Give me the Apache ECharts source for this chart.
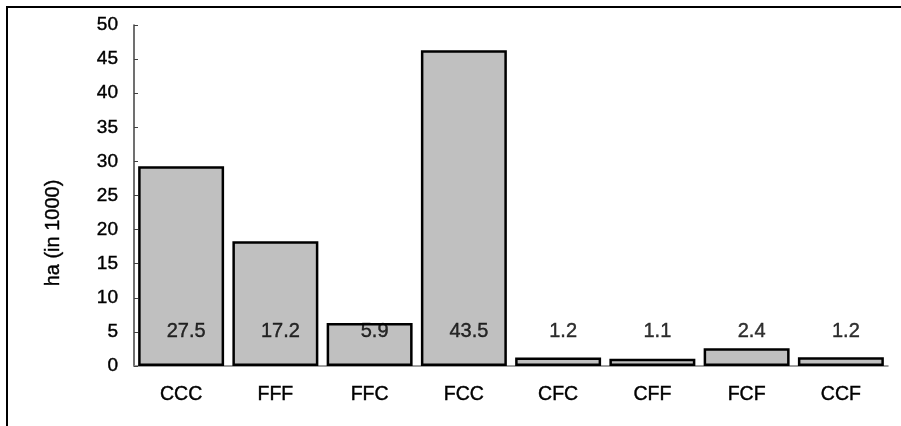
<!DOCTYPE html>
<html>
<head>
<meta charset="utf-8">
<script src="https://cdn.jsdelivr.net/npm/echarts@6/dist/echarts.min.js"></script>
<style>
html,body{margin:0;padding:0;background:#fff;}
#chart{width:901px;height:426px;}
</style>
</head>
<body>
<div id="chart"></div>
<script>
const categories = ['CCC', 'FFF', 'FFC', 'FCC', 'CFC', 'CFF', 'FCF', 'CCF'];
const barValues = [29.3, 18.3, 6.3, 46.3, 1.25, 1.05, 2.6, 1.3];
const labelTexts = ['27.5', '17.2', '5.9', '43.5', '1.2', '1.1', '2.4', '1.2'];
const yTicks = [0, 5, 10, 15, 20, 25, 30, 35, 40, 45, 50];
const yAxisTitle = 'ha (in 1000)';

const FONT = 'Liberation Sans, Arial, sans-serif';
const chart = echarts.init(document.getElementById('chart'), null, {renderer: 'canvas'});
const labelLevel = 5;
const dark = {textBorderColor: '#000', textBorderWidth: 0.4};

chart.setOption({
  animation: false,
  backgroundColor: '#ffffff',
  grid: {left: 134, right: 13, top: 25, bottom: 60, containLabel: false},
  graphic: [
    {type: 'rect', shape: {x: 7, y: 7, width: 910, height: 440}, style: {fill: 'none', stroke: '#000', lineWidth: 2}, silent: true},
    {type: 'text', x: 53, y: 233, rotation: Math.PI / 2,
     style: Object.assign({text: yAxisTitle, fill: '#000', font: '20px ' + FONT, textAlign: 'center', textVerticalAlign: 'middle', stroke: '#000', lineWidth: 0.4})}
  ],
  xAxis: {
    type: 'category',
    data: categories,
    axisTick: {show: false},
    axisLine: {lineStyle: {color: '#808080', width: 1.5}},
    axisLabel: Object.assign({color: '#000', fontSize: 19.5, fontFamily: FONT, margin: 19}, dark)
  },
  yAxis: {
    type: 'value',
    min: yTicks[0], max: yTicks[yTicks.length - 1], interval: 5,
    splitLine: {show: false},
    axisLine: {show: true, lineStyle: {color: '#404040', width: 1.5}},
    axisTick: {show: true, inside: true, length: 4, lineStyle: {color: '#404040'}},
    axisLabel: Object.assign({color: '#000', fontSize: 19, fontFamily: FONT, margin: 16}, dark)
  },
  series: [
    {
      type: 'bar',
      data: barValues,
      barCategoryGap: '8.8%',
      itemStyle: {color: '#c0c0c0', borderColor: '#000', borderWidth: 2.5},
      z: 2
    },
    {
      type: 'scatter',
      data: categories.map((c, i) => [c, labelLevel]),
      symbolSize: 0,
      label: Object.assign({
        show: true, position: 'inside', offset: [5, 0],
        formatter: p => labelTexts[p.dataIndex],
        color: '#000', fontSize: 20, fontFamily: FONT
      }, dark),
      z: 5
    }
  ]
});
</script>
</body>
</html>
